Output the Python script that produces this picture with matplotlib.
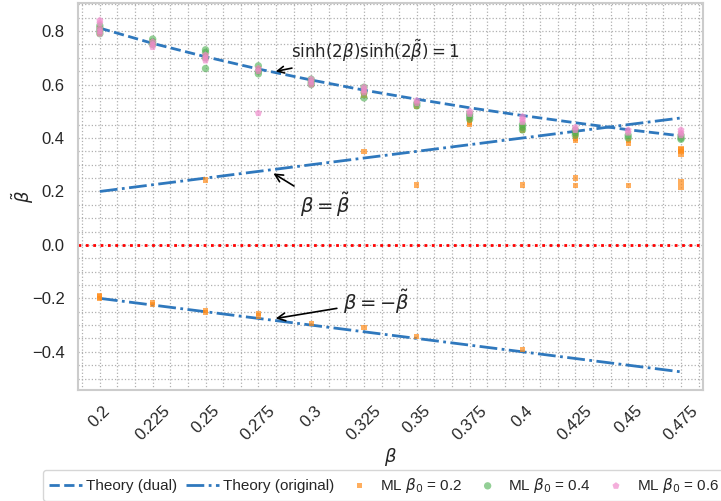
import matplotlib
matplotlib.use('Agg')
import matplotlib.pyplot as plt
import seaborn as sns
from matplotlib.ticker import MultipleLocator

# beta values and theory curves
betas = [0.2, 0.225, 0.25, 0.275, 0.3, 0.325, 0.35, 0.375, 0.4, 0.425, 0.45, 0.475]
theory_dual = [0.811, 0.754, 0.704, 0.658, 0.617, 0.579, 0.545, 0.513, 0.484, 0.457, 0.431, 0.408]
theory_orig = [0.2, 0.225, 0.25, 0.275, 0.3, 0.325, 0.35, 0.375, 0.4, 0.425, 0.45, 0.475]
theory_neg = [-0.2, -0.225, -0.25, -0.275, -0.3, -0.325, -0.35, -0.375, -0.4, -0.425, -0.45, -0.475]

# ML estimates, beta_0 = 0.2
ml02_beta = [0.2, 0.2, 0.2, 0.225, 0.225, 0.25, 0.25, 0.275, 0.275, 0.3, 0.3,
             0.325, 0.325, 0.35, 0.35, 0.375, 0.375, 0.375, 0.4, 0.4,
             0.425, 0.425, 0.425, 0.45, 0.45, 0.475, 0.475, 0.475, 0.475,
             0.25, 0.325, 0.35, 0.4, 0.425, 0.425, 0.45, 0.475, 0.475,
             0.2, 0.2, 0.2, 0.225, 0.225, 0.25, 0.25, 0.275, 0.275, 0.3, 0.325, 0.35, 0.4]
ml02_val = [0.80, 0.81, 0.79, 0.75, 0.76, 0.70, 0.71, 0.65, 0.66, 0.61, 0.60,
            0.57, 0.56, 0.53, 0.52, 0.45, 0.46, 0.47, 0.43, 0.44,
            0.40, 0.39, 0.41, 0.39, 0.38, 0.36, 0.35, 0.34, 0.355,
            0.243, 0.35, 0.224, 0.224, 0.25, 0.222, 0.222, 0.236, 0.217,
            -0.19, -0.195, -0.2, -0.215, -0.222, -0.245, -0.252, -0.258, -0.266,
            -0.295, -0.31, -0.343, -0.39]

# ML estimates, beta_0 = 0.4
ml04_beta = [0.2, 0.2, 0.2, 0.2, 0.225, 0.225, 0.225, 0.25, 0.25, 0.25, 0.25,
             0.275, 0.275, 0.275, 0.3, 0.3, 0.3, 0.325, 0.325, 0.325, 0.35, 0.35,
             0.375, 0.375, 0.375, 0.4, 0.4, 0.4, 0.425, 0.425, 0.425, 0.45, 0.45,
             0.475, 0.475, 0.475]
ml04_val = [0.80, 0.82, 0.81, 0.79, 0.75, 0.77, 0.76, 0.66, 0.72, 0.73, 0.70,
            0.64, 0.65, 0.67, 0.60, 0.62, 0.61, 0.55, 0.57, 0.59, 0.52, 0.53,
            0.47, 0.48, 0.49, 0.43, 0.44, 0.45, 0.41, 0.42, 0.43, 0.40, 0.41,
            0.395, 0.40, 0.41]

# ML estimates, beta_0 = 0.6
ml06_beta = [0.2, 0.2, 0.2, 0.2, 0.2, 0.225, 0.225, 0.225, 0.25, 0.25, 0.25,
             0.275, 0.275, 0.275, 0.3, 0.3, 0.3, 0.325, 0.325, 0.325, 0.35, 0.35,
             0.375, 0.375, 0.4, 0.4, 0.4, 0.425, 0.425, 0.45, 0.45,
             0.475, 0.475, 0.475]
ml06_val = [0.84, 0.83, 0.80, 0.79, 0.81, 0.74, 0.75, 0.76, 0.69, 0.70, 0.71,
            0.65, 0.66, 0.493, 0.60, 0.61, 0.62, 0.58, 0.59, 0.57, 0.53, 0.54,
            0.49, 0.50, 0.46, 0.47, 0.48, 0.43, 0.44, 0.42, 0.43,
            0.42, 0.43, 0.41]

sns.set_theme(style='whitegrid')
plt.rcParams['font.family'] = ['Liberation Sans', 'DejaVu Sans']

fig = plt.figure(figsize=(7.21, 5.01), dpi=100)
ax = fig.add_axes([0.108, 0.222, 0.867, 0.772])

blue = '#2f78bd'
ax.plot(betas, theory_dual, '--', color=blue, lw=2, label='Theory (dual)')
ax.plot(betas, theory_orig, '-.', color=blue, lw=2, label='Theory (original)')
ax.plot(betas, theory_neg, '-.', color=blue, lw=2)

ax.scatter(ml02_beta, ml02_val, marker='s', s=14, color='#ff8c1a', alpha=0.7,
           edgecolors='none', label=r'ML $\beta_0$ = 0.2', zorder=3)
ax.scatter(ml04_beta, ml04_val, marker='o', s=28, color='#4caf50', alpha=0.6,
           edgecolors='none', label=r'ML $\beta_0$ = 0.4', zorder=3)
ax.scatter(ml06_beta, ml06_val, marker='p', s=28, color='#f08ccc', alpha=0.7,
           edgecolors='none', label=r'ML $\beta_0$ = 0.6', zorder=3)

ax.axhline(0, color='red', ls=':', lw=2)

arrow = dict(arrowstyle='->', color='black', lw=1.2)
ax.annotate(r'$\sinh(2\beta)\sinh(2\tilde{\beta}) = 1$', xy=(0.2819, 0.647),
            xytext=(0.2905, 0.725), fontsize=12, ha='left', va='center',
            arrowprops=arrow)
ax.annotate(r'$\beta = \tilde{\beta}$', xy=(0.281, 0.273),
            xytext=(0.2945, 0.15), fontsize=14, ha='left', va='center',
            arrowprops=arrow)
ax.annotate(r'$\beta = -\tilde{\beta}$', xy=(0.2819, -0.277),
            xytext=(0.315, -0.213), fontsize=14, ha='left', va='center',
            arrowprops=arrow)

ax.set_xlim(0.1896, 0.4854)
ax.set_ylim(-0.542, 0.905)
ax.set_xticks(betas)
ax.set_xticklabels([str(b) for b in betas], rotation=45, fontsize=12)
ax.yaxis.set_major_locator(MultipleLocator(0.2))
ax.yaxis.set_minor_locator(MultipleLocator(0.05))
ax.xaxis.set_minor_locator(MultipleLocator(0.025 / 3))
ax.tick_params(axis='y', labelsize=12)
ax.grid(which='both', ls=':', color='#b0b0b0', lw=0.9)
for s in ax.spines.values():
    s.set_color('#cccccc')
    s.set_linewidth(1.5)

ax.set_xlabel(r'$\beta$', fontsize=13, labelpad=2)
ax.set_ylabel(r'$\tilde{\beta}$', fontsize=13, labelpad=-3)

ax.legend(loc='upper center', bbox_to_anchor=(0.49, -0.187), ncol=5,
          fontsize=11, handlelength=2.1, columnspacing=0.6, handletextpad=0.3,
          borderpad=0.4, frameon=True)

fig.savefig('out.png', dpi=100)
